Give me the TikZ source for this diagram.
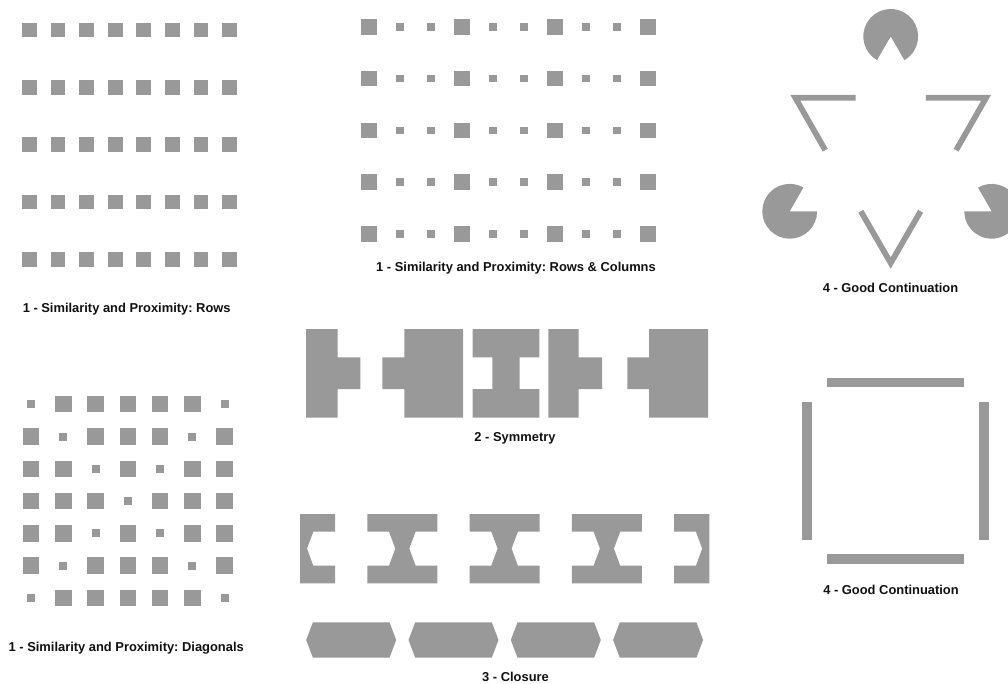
\documentclass[tikz,border=0pt]{standalone}
\usepackage{fontspec}
\setmainfont{Liberation Sans}
\frenchspacing
\definecolor{shade}{HTML}{999999}
\definecolor{ink}{HTML}{111111}
\begin{document}
\begin{tikzpicture}[x=1pt,y=-1pt,
  lbl/.style={font=\fontsize{12.9}{14}\selectfont\bfseries, text=ink, anchor=base, inner sep=0pt},
  bar/.style={draw=shade, line width=5.7pt, line join=miter, line cap=butt},
  shp/.style={fill=shade}]
\useasboundingbox (0,0) rectangle (1008,684);
\fill[white] (0,0) rectangle (1008,684);

% --- Grid 1: rows
\foreach \i in {0,...,7}{
  \foreach \j in {0,...,4}{
    \pgfmathsetmacro{\cx}{29.35+28.6*\i}
    \pgfmathsetmacro{\cy}{30+57.3*\j}
    \fill[shp] ({\cx-7.35},{\cy-7.35}) rectangle ++(14.7,14.7);
  }
}
\node[lbl] (l1) at (126.7,312.3) {1 - Similarity and Proximity: Rows};

% --- Grid 2: rows & columns
\foreach \i in {0,...,9}{
  \foreach \j in {0,...,4}{
    \pgfmathsetmacro{\cx}{368.8+31*\i}
    \pgfmathsetmacro{\cy}{26.8+51.8*\j}
    \pgfmathsetmacro{\s}{ifthenelse(mod(\i,3)==0,15.5,7.6)}
    \fill[shp] ({\cx-\s/2},{\cy-\s/2}) rectangle ++(\s,\s);
  }
}
\node[lbl] (l2) at (516,271.5) {1 - Similarity and Proximity: Rows \& Columns};

% --- Grid 3: diagonals
\foreach \i in {0,...,6}{
  \foreach \j in {0,...,6}{
    \pgfmathsetmacro{\cx}{31+32.28*\i}
    \pgfmathsetmacro{\cy}{404.2+32.3*\j}
    \pgfmathsetmacro{\s}{ifthenelse(or(\i==\j,\i+\j==6),8,16.5)}
    \fill[shp] ({\cx-\s/2},{\cy-\s/2}) rectangle ++(\s,\s);
  }
}
\node[lbl] (l5) at (126.2,651.5) {1 - Similarity and Proximity: Diagonals};

% --- Kanizsa triangle
\fill[shp] (890.7,36.4) -- ++(120:27.4) arc[start angle=120, end angle=420, radius=27.4] -- cycle;
\fill[shp] (789.7,211.3) -- ++(0:27.4) arc[start angle=0, end angle=300, radius=27.4] -- cycle;
\fill[shp] (991.7,211.3) -- ++(240:27.4) arc[start angle=240, end angle=540, radius=27.4] -- cycle;
\draw[bar] (855.5,97.8) -- (795.3,97.8) -- (825.3,150.2);
\draw[bar] (925.9,97.8) -- (986.1,97.8) -- (956.1,150.2);
\draw[bar] (860.8,211.3) -- (890.7,263.0) -- (920.6,211.3);
\node[lbl] (l3) at (890.5,293) {4 - Good Continuation};

% --- Symmetry
\fill[shp] (306,329) -- (337.7,329) -- (337.7,357.3) -- (360.3,357.3) -- (360.3,389) -- (337.7,389) -- (337.7,417.7) -- (306,417.7) -- cycle;
\fill[shp] (404.3,329) -- (463,329) -- (463,417.7) -- (404.3,417.7) -- (404.3,389) -- (382.3,389) -- (382.3,357.3) -- (404.3,357.3) -- cycle;
\fill[shp] (472.7,329) -- (539.3,329) -- (539.3,357.3) -- (519.7,357.3) -- (519.7,389) -- (539.3,389) -- (539.3,417.7) -- (472.7,417.7) -- (472.7,389) -- (492.3,389) -- (492.3,357.3) -- (472.7,357.3) -- cycle;
\fill[shp] (548.3,329) -- (578.7,329) -- (578.7,357.3) -- (602,357.3) -- (602,389) -- (578.7,389) -- (578.7,417.7) -- (548.3,417.7) -- cycle;
\fill[shp] (649,329) -- (708,329) -- (708,417.7) -- (649,417.7) -- (649,389) -- (627.3,389) -- (627.3,357.3) -- (649,357.3) -- cycle;
\node[lbl] (l4) at (515,441) {2 - Symmetry};

% --- Closure
\begin{scope}
\clip (300,500) rectangle (709.3,600);
\foreach \k in {0,...,4}{
  \pgfmathsetmacro{\c}{300+102.3*\k}
  \fill[shp] ({\c-35},514) -- ({\c+35},514) -- ({\c+35},531.7) -- ({\c+13.3},531.7) -- ({\c+7},548.5) -- ({\c+13.3},565.7) -- ({\c+35},565.7) -- ({\c+35},583.3) -- ({\c-35},583.3) -- ({\c-35},565.7) -- ({\c-13.3},565.7) -- ({\c-7},548.5) -- ({\c-13.3},531.7) -- ({\c-35},531.7) -- cycle;
}
\end{scope}
\foreach \k in {0,...,3}{
  \pgfmathsetmacro{\h}{351.2+102.3*\k}
  \fill[shp] ({\h-45},640) -- ({\h-38.3},622.3) -- ({\h+38.3},622.3) -- ({\h+45},640) -- ({\h+38.3},657.7) -- ({\h-38.3},657.7) -- cycle;
}
\node[lbl] (l7) at (515.5,681) {3 - Closure};

% --- Square (good continuation)
\fill[shp] (826.7,377.7) rectangle (964.3,387.3);
\fill[shp] (826.7,554.3) rectangle (964.3,564);
\fill[shp] (802.3,402.3) rectangle (812.3,540);
\fill[shp] (979.3,402.3) rectangle (989.3,540);
\node[lbl] (l6) at (891,594) {4 - Good Continuation};
\end{tikzpicture}
\end{document}
